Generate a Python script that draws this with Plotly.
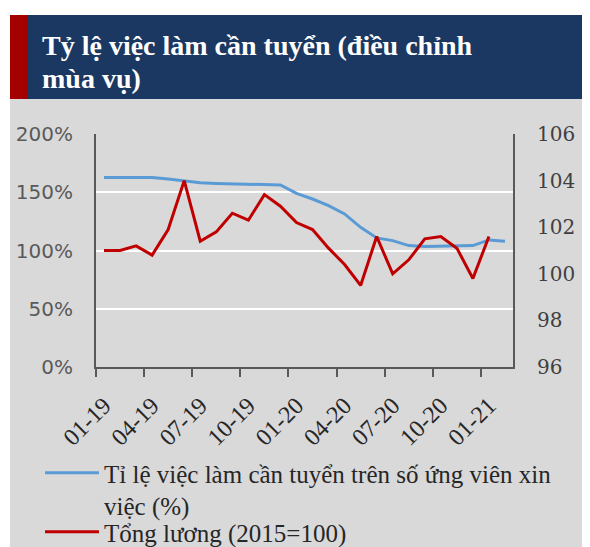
import plotly.graph_objects as go

# page body has an 8px margin, so the figure is drawn 8px in from the window edge
OFF = 8
W, H = 590 - OFF, 547

months = ["01-19", "02-19", "03-19", "04-19", "05-19", "06-19", "07-19", "08-19",
          "09-19", "10-19", "11-19", "12-19", "01-20", "02-20", "03-20", "04-20",
          "05-20", "06-20", "07-20", "08-20", "09-20", "10-20", "11-20", "12-20",
          "01-21", "02-21"]
job_ratio = [162.7, 162.7, 162.7, 162.7, 161.4, 159.9, 158.2, 157.6, 157.1, 157.1,
             156.2, 156.2, 149.0, 144.2, 138.5, 131.4, 119.9, 110.8, 108.5, 104.2,
             103.4, 103.6, 104.2, 104.2, 109.1, 107.9]
wages = [101.0, 101.0, 101.2, 100.8, 101.9, 104.0, 101.4, 101.8, 102.6, 102.3,
         103.4, 102.9, 102.2, 101.9, 101.1, 100.4, 99.5, 101.6, 100.0, 100.6,
         101.5, 101.6, 101.1, 99.8, 101.6]
left_ticks = [0, 50, 100, 150, 200]
right_ticks = [96, 98, 100, 102, 104, 106]
title_lines = ["Tỷ lệ việc làm cần tuyển (điều chỉnh", "mùa vụ)"]
name_ratio = "Tỉ lệ việc làm cần tuyển trên số ứng viên xin<br>việc (%)"
name_wages = "Tổng lương (2015=100)"

x_idx = list(range(len(months)))
label_idx = x_idx[::3][:9]


def px(x):
    return (x - OFF) / W


def py(y):
    return 1 - (y - OFF) / H


fig = go.Figure()
fig.add_trace(go.Scatter(x=x_idx[:len(job_ratio)], y=job_ratio, mode="lines", name=name_ratio,
                         line=dict(color="#5b9bd5", width=3), yaxis="y", legend="legend"))
fig.add_trace(go.Scatter(x=x_idx[:len(wages)], y=wages, mode="lines", name=name_wages,
                         line=dict(color="#c00000", width=3), yaxis="y2", legend="legend2"))

axis_col = "#595959"
legend_font = dict(family="Liberation Serif", size=25, color="#262626")
fig.update_layout(
    width=W, height=H,
    margin=dict(l=0, r=0, t=0, b=0, pad=0),
    paper_bgcolor="white",
    plot_bgcolor="rgba(0,0,0,0)",
    xaxis=dict(
        domain=[px(96), px(513)],
        range=[-0.5, len(months) - 0.5],
        automargin=False,
        tickmode="array",
        tickvals=label_idx,
        ticktext=[months[i] for i in label_idx],
        tickangle=-45,
        ticks="",
        ticklabelstandoff=13,
        tickfont=dict(family="Liberation Serif", size=24, color="#262626"),
        showgrid=False, zeroline=False,
        showline=True, linecolor=axis_col, linewidth=2,
        minor=dict(tickmode="array", tickvals=[i - 0.5 for i in label_idx],
                   ticks="outside", ticklen=8, tickwidth=1.5, tickcolor=axis_col,
                   showgrid=False),
    ),
    yaxis=dict(
        domain=[py(367), py(134)],
        range=[0, 200],
        automargin=False,
        tickvals=left_ticks,
        ticktext=[f"{v}%" for v in left_ticks],
        tickfont=dict(family="DejaVu Sans", size=20, color=axis_col),
        ticks="",
        ticklabelstandoff=17,
        showgrid=True, gridcolor="white", gridwidth=2,
        zeroline=False,
        showline=True, linecolor=axis_col, linewidth=2,
    ),
    yaxis2=dict(
        overlaying="y", side="right",
        range=[96, 106],
        automargin=False,
        tickvals=right_ticks,
        tickfont=dict(family="DejaVu Serif", size=20, color="#404040"),
        ticks="",
        ticklabelstandoff=18,
        showgrid=False, zeroline=False,
        showline=True, linecolor=axis_col, linewidth=2,
    ),
    showlegend=True,
    legend=dict(
        x=px(40), y=py(450), xanchor="left", yanchor="top", valign="top",
        bgcolor="rgba(0,0,0,0)", font=legend_font, itemwidth=54,
    ),
    legend2=dict(
        x=px(40), y=py(555), xanchor="left", yanchor="bottom",
        bgcolor="rgba(0,0,0,0)", font=legend_font, itemwidth=54,
    ),
    shapes=[
        dict(type="rect", xref="paper", yref="paper", x0=px(10), x1=px(590),
             y0=py(555), y1=py(99), fillcolor="#d9d9d9", line=dict(width=0), layer="below"),
        dict(type="rect", xref="paper", yref="paper", x0=px(10), x1=px(590),
             y0=py(99), y1=py(15), fillcolor="#1b3862", line=dict(width=0), layer="below"),
        dict(type="rect", xref="paper", yref="paper", x0=px(10), x1=px(28),
             y0=py(99), y1=py(15), fillcolor="#a50000", line=dict(width=0), layer="below"),
    ],
    annotations=[
        dict(text=f"<b>{title_lines[0]}</b>", xref="paper", yref="paper",
             x=px(40), y=py(46), xanchor="left", yanchor="middle", showarrow=False,
             font=dict(family="Liberation Serif", size=28, color="white")),
        dict(text=f"<b>{title_lines[1]}</b>", xref="paper", yref="paper",
             x=px(40), y=py(79), xanchor="left", yanchor="middle", showarrow=False,
             font=dict(family="Liberation Serif", size=28, color="white")),
    ],
)

fig.write_html("out.html")
